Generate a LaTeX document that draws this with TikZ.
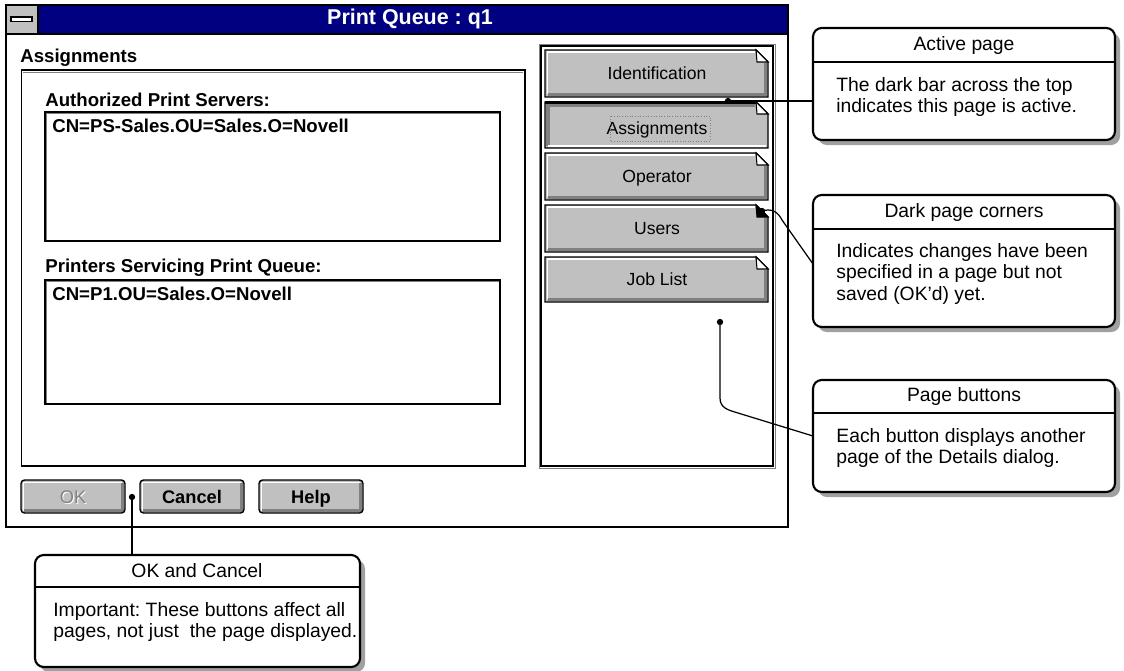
\documentclass[tikz,border=0pt]{standalone}
\usepackage{fontspec}
\setmainfont{Liberation Sans}
\frenchspacing
\definecolor{navy}{HTML}{000080}
\definecolor{btn}{HTML}{C0C0C0}
\definecolor{shd}{HTML}{808080}
\definecolor{cshadow}{HTML}{A0A0A0}
\tikzset{
  wintext/.style={font=\fontsize{10.6}{12}\selectfont\bfseries, anchor=west, inner sep=0pt},
  pgtext/.style={font=\fontsize{10}{12}\selectfont, inner sep=0pt, anchor=base},
  btntext/.style={font=\fontsize{10.4}{12}\selectfont\bfseries, inner sep=0pt, anchor=base},
  calltitle/.style={font=\fontsize{11}{13}\selectfont, inner sep=0pt},
  callbody/.style={font=\fontsize{11}{12.2}\selectfont, align=left, anchor=north west, inner sep=0pt},
  callframe/.style={draw, line width=1.2pt, rounded corners=5pt, fill=white},
  callshadow/.style={fill=cshadow, rounded corners=5pt},
  conn/.style={line width=0.7pt},
  dot/.style={circle, fill=black, inner sep=0pt, minimum size=3.6pt}
}
\newcommand\pgbtn[5]{% y1, y2, label, name, fold colour
  \fill[btn] (545,#1) -- (756,#1) -- (768,#1+12) -- (768,#2) -- (545,#2) -- cycle;
  \draw[white, line width=1.1pt] (547.5,#2-3) -- (547.5,#1+2) -- (755,#1+2);
  \draw[shd, line width=1.3pt] (548,#2-2.5) -- (765.5,#2-2.5) -- (765.5,#1+13);
  \draw[line width=0.8pt] (545,#1) -- (756,#1) -- (768,#1+12) -- (768,#2) -- (545,#2) -- cycle;
  \draw[fill=#5, line width=0.6pt] (756,#1) -- (757,#1+12) -- (768,#1+12) -- cycle;
  \node[pgtext] (#4) at (657,{(#1+#2)/2+6}) {#3};
}
\newcommand\wbtn[4]{% x1, x2, label, name
  \fill[btn, rounded corners=2pt] (#1,480) rectangle (#2,513);
  \draw[white, line width=1.1pt] (#1+2.5,511) -- (#1+2.5,482.5) -- (#2-3,482.5);
  \draw[shd, line width=1.3pt] (#1+3,510.5) -- (#2-2.5,510.5) -- (#2-2.5,483);
  \draw[line width=0.8pt, rounded corners=2pt] (#1,480) rectangle (#2,513);
  \node[btntext] (#4) at ({(#1+#2)/2},503.5) {#3};
}
\begin{document}
\begin{tikzpicture}[x=0.02cm, y=-0.02cm]
\useasboundingbox (0,0) rectangle (1124,670);
\fill[white] (0,0) rectangle (1124,670);

% ---------- window ----------
\fill[navy] (38,5) rectangle (788,34);
\fill[btn] (6,5) rectangle (38,34);
\draw[fill=white, line width=0.6pt] (11,17) rectangle (32,21.5);
\draw[line width=0.7pt] (38,5) -- (38,34);
\draw[line width=0.7pt] (6,34) -- (788,34);
\draw[line width=0.8pt] (6,5) rectangle (788,527);
\node[font=\fontsize{12.2}{14}\selectfont\bfseries, text=white, inner sep=0pt] (title) at (410,19) {Print Queue : q1};

\node[wintext] (assign) at (20,58) {Assignments};
\draw[line width=0.8pt] (21.5,70) rectangle (525,466);
\draw[shd, line width=0.5pt] (23,72) -- (523,72);

\node[wintext] (auth) at (45,100) {Authorized Print Servers:};
\draw[line width=0.8pt] (45,112) rectangle (500,241);
\draw[shd, line width=0.6pt] (46.5,240) -- (46.5,113.5) -- (499,113.5);
\node[wintext] (srv) at (52,126) {CN=PS-Sales.OU=Sales.O=Novell};

\node[wintext] (prn) at (45,268) {Printers Servicing Print Queue:};
\draw[line width=0.8pt] (45,280) rectangle (500,404);
\draw[shd, line width=0.6pt] (46.5,403) -- (46.5,281.5) -- (499,281.5);
\node[wintext] (p1) at (52,294) {CN=P1.OU=Sales.O=Novell};

% right panel
\draw[line width=0.8pt] (541,46) rectangle (773,466);
\draw[shd, line width=0.5pt] (539,44) rectangle (775,468);

\pgbtn{50}{97}{Identification}{bIdent}{white}
% active (Assignments) page button
\fill[btn] (545,102) -- (756,102) -- (768,114) -- (768,148) -- (545,148) -- cycle;
\draw[shd, line width=2pt] (548,146) -- (548,105) -- (755,105);
\draw[white, line width=1.2pt] (548,146) -- (766,146);
\draw[line width=0.8pt] (545,102) -- (756,102) -- (768,114) -- (768,148) -- (545,148) -- cycle;
\draw[line width=1.6pt] (545,102.8) -- (755.5,102.8);
\draw[fill=white, line width=0.6pt] (756,102) -- (757,114) -- (768,114) -- cycle;
\node[pgtext] (bAssign) at (657,134) {Assignments};
\draw[densely dotted, line width=0.5pt, shd] (610,116) rectangle (710,141);
\pgbtn{153}{200}{Operator}{bOper}{white}
\pgbtn{205}{252}{Users}{bUsers}{black}
\pgbtn{257}{302}{Job List}{bJob}{white}

% bottom buttons
\fill[btn, rounded corners=2pt] (21,480) rectangle (125,513);
\draw[white, line width=1.1pt] (23.5,511) -- (23.5,482.5) -- (122,482.5);
\draw[shd, line width=1.3pt] (24,510.5) -- (122.5,510.5) -- (122.5,483);
\draw[line width=0.8pt, rounded corners=2pt] (21,480) rectangle (125,513);
\node[btntext, font=\fontsize{10.4}{12}\selectfont, text=white] at (74,504.5) {OK};
\node[btntext, font=\fontsize{10.4}{12}\selectfont, text=shd] (bOK) at (73,503.5) {OK};
\wbtn{140}{244}{Cancel}{bCancel}
\wbtn{259}{363}{Help}{bHelp}

% ---------- callouts ----------
% Active page
\fill[callshadow] (818,33) rectangle (1120,145);
\draw[callframe] (813,28) rectangle (1115,140);
\draw[line width=0.7pt] (813,62) -- (1115,62);
\node[calltitle] (tAct) at (964,45) {Active page};
\node[callbody] (xAct) at (836,77) {The dark bar across the top\\indicates this page is active.};
\coordinate (eAct) at (813,101);

% Dark page corners
\fill[callshadow] (818,200) rectangle (1120,332);
\draw[callframe] (813,195) rectangle (1115,327);
\draw[line width=0.7pt] (813,229) -- (1115,229);
\node[calltitle] (tDark) at (964,212) {Dark page corners};
\node[callbody] (xDark) at (836,243) {Indicates changes have been\\specified in a page but not\\saved (OK{\char"27}d) yet.};
\coordinate (eDark) at (813,264);

% Page buttons
\fill[callshadow] (818,385) rectangle (1120,497);
\draw[callframe] (813,380) rectangle (1115,492);
\draw[line width=0.7pt] (813,413) -- (1115,413);
\node[calltitle] (tPage) at (964,396) {Page buttons};
\node[callbody] (xPage) at (836,428) {Each button displays another\\page of the Details dialog.};
\coordinate (ePage) at (813,436);

% OK and Cancel
\fill[callshadow] (40,560) rectangle (365,672);
\draw[callframe] (35,555) rectangle (360,667);
\draw[line width=0.7pt] (35,587) -- (360,587);
\node[calltitle] (tOK) at (197,571) {OK and Cancel};
\node[callbody] (xOK) at (53,602) {Important: These buttons affect all\\pages, not just\ \ the page displayed.};
\coordinate (eOK) at (132,555);

% ---------- connectors ----------
\node[dot] (dAct) at (728,101) {};
\node[dot] (dDark) at (762,211) {};
\node[dot] (dPage) at (720,322) {};
\node[dot] (dOK) at (132,497) {};

\draw[conn] (dAct.center) -- (eAct);
\draw[conn] (dDark.center) .. controls (772,208) and (778,212) .. (782,220) -- (eDark);
\draw[conn] (dPage.center) -- (720,398) .. controls (720,408) and (728,410) .. (738,413) -- (ePage);
\draw[conn] (dOK.center) -- (eOK);
\end{tikzpicture}
\end{document}
